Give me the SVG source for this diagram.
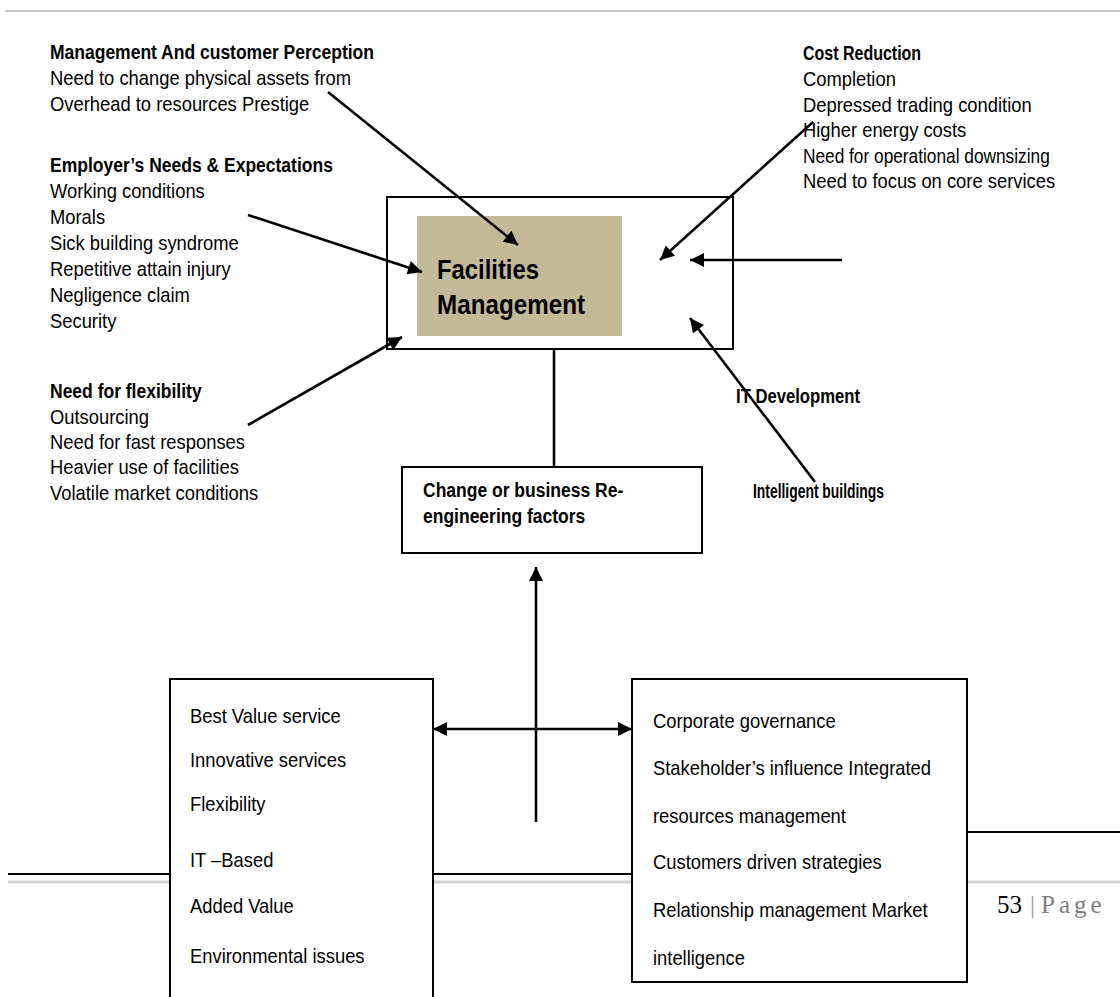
<svg xmlns="http://www.w3.org/2000/svg" width="1120" height="997" viewBox="0 0 1120 997">
<defs>
<style>
.t{font-family:"Liberation Sans",Arial,sans-serif;font-size:21px;fill:#000}
.b{font-family:"Liberation Sans",Arial,sans-serif;font-size:20px;font-weight:bold;fill:#000}
.box{fill:#fff;stroke:#000;stroke-width:2}
.con{stroke:#000;stroke-width:2.6;fill:none}
</style>
<marker id="ah" viewBox="0 0 10 10" refX="10" refY="5" markerWidth="16" markerHeight="14" markerUnits="userSpaceOnUse" orient="auto-start-reverse">
<path d="M0,0 L10,5 L0,10 z" fill="#000"/>
</marker>
</defs>
<rect width="1120" height="997" fill="#fff"/>
<line x1="5" y1="11" x2="1120" y2="11" stroke="#c4c4c4" stroke-width="2"/>
<line x1="8" y1="882" x2="1120" y2="882" stroke="#d2d2d2" stroke-width="3"/>
<line x1="8" y1="874" x2="632" y2="874" stroke="#000" stroke-width="2"/>
<line x1="967" y1="832" x2="1120" y2="832" stroke="#000" stroke-width="2"/>

<g id="fm-node">
<rect class="box" x="387" y="197" width="346" height="152"/>
<rect x="417" y="216" width="205" height="120" fill="#c4ba98"/>
<text x="437" y="279" font-family="Liberation Sans,Arial,sans-serif" font-size="28" font-weight="bold" textLength="102" lengthAdjust="spacingAndGlyphs">Facilities</text>
<text x="437" y="314" font-family="Liberation Sans,Arial,sans-serif" font-size="28" font-weight="bold" textLength="148" lengthAdjust="spacingAndGlyphs">Management</text>
</g>

<g id="cr-node">
<rect class="box" x="402" y="467" width="300" height="86"/>
<g transform="scale(0.875,1)">
<text class="b" x="483.43" y="497" font-size="21">Change or business Re-</text>
<text class="b" x="483.43" y="523" font-size="21">engineering factors</text>
</g>
</g>

<g id="left-box">
<rect class="box" x="170" y="679" width="263" height="330"/>
<g transform="scale(0.875,1)">
<text class="t" x="217.14" y="723">Best Value service</text>
<text class="t" x="217.14" y="767">Innovative services</text>
<text class="t" x="217.14" y="811">Flexibility</text>
<text class="t" x="217.14" y="867">IT –Based</text>
<text class="t" x="217.14" y="913">Added Value</text>
<text class="t" x="217.14" y="963">Environmental issues</text>
</g>
</g>

<g id="right-box">
<rect class="box" x="632" y="679" width="335" height="303"/>
<g transform="scale(0.875,1)">
<text class="t" x="746.29" y="728">Corporate governance</text>
<text class="t" x="746.29" y="775">Stakeholder’s influence Integrated</text>
<text class="t" x="746.29" y="823">resources management</text>
<text class="t" x="746.29" y="869">Customers driven strategies</text>
<text class="t" x="746.29" y="917">Relationship management Market</text>
<text class="t" x="746.29" y="965">intelligence</text>
</g>
</g>

<g id="mgmt-perception">
<g transform="scale(0.875,1)">
<text class="b" x="57.14" y="59">Management And customer Perception</text>
<text class="t" x="57.14" y="85">Need to change physical assets from</text>
<text class="t" x="57.14" y="111">Overhead to resources Prestige</text>
</g>
</g>

<g id="employer-needs">
<g transform="scale(0.875,1)">
<text class="b" x="57.14" y="172">Employer’s Needs &amp; Expectations</text>
<text class="t" x="57.14" y="198">Working conditions</text>
<text class="t" x="57.14" y="224">Morals</text>
<text class="t" x="57.14" y="250">Sick building syndrome</text>
<text class="t" x="57.14" y="276">Repetitive attain injury</text>
<text class="t" x="57.14" y="302">Negligence claim</text>
<text class="t" x="57.14" y="328">Security</text>
</g>
</g>

<g id="flexibility">
<g transform="scale(0.875,1)">
<text class="b" x="57.14" y="398">Need for flexibility</text>
<text class="t" x="57.14" y="424">Outsourcing</text>
<text class="t" x="57.14" y="449">Need for fast responses</text>
<text class="t" x="57.14" y="474">Heavier use of facilities</text>
<text class="t" x="57.14" y="500">Volatile market conditions</text>
</g>
</g>

<g id="cost-reduction">
<g transform="scale(0.875,1)">
<text class="b" x="917.71" y="60" textLength="135" lengthAdjust="spacingAndGlyphs">Cost Reduction</text>
<text class="t" x="917.71" y="86">Completion</text>
<text class="t" x="917.71" y="112">Depressed trading condition</text>
<text class="t" x="917.71" y="137">Higher energy costs</text>
<text class="t" x="917.71" y="163" textLength="282" lengthAdjust="spacingAndGlyphs">Need for operational downsizing</text>
<text class="t" x="917.71" y="188">Need to focus on core services</text>
</g>
</g>

<g id="it-development">
<text class="b" x="736" y="403" font-size="19" textLength="124" lengthAdjust="spacingAndGlyphs">IT Development</text>
<text class="b" x="753" y="498" font-size="19" textLength="131" lengthAdjust="spacingAndGlyphs">Intelligent buildings</text>
</g>

<g id="page-number">
<text x="997" y="913" font-family="Liberation Serif,Times New Roman,serif" font-size="25" fill="#000">53</text>
<text x="1030" y="913" font-family="Liberation Serif,Times New Roman,serif" font-size="25" fill="#999">|</text>
<text x="1041" y="913" font-family="Liberation Serif,Times New Roman,serif" font-size="25" fill="#7f7f7f" letter-spacing="4">Page</text>
</g>

<g id="connectors">
<line class="con" x1="328" y1="92" x2="518" y2="245" marker-end="url(#ah)"/>
<line class="con" x1="248" y1="215" x2="422" y2="272" marker-end="url(#ah)"/>
<line class="con" x1="248" y1="425" x2="402" y2="337" marker-end="url(#ah)"/>
<line class="con" x1="813" y1="122" x2="660" y2="260" marker-end="url(#ah)"/>
<line class="con" x1="842" y1="260" x2="690" y2="260" marker-end="url(#ah)"/>
<line class="con" x1="815" y1="482" x2="690" y2="318" marker-end="url(#ah)"/>
<line class="con" x1="554" y1="350" x2="554" y2="467"/>
<line class="con" x1="536" y1="822" x2="536" y2="567" marker-end="url(#ah)"/>
<line class="con" x1="433" y1="729" x2="632" y2="729" marker-start="url(#ah)" marker-end="url(#ah)"/>
</g>
</svg>
